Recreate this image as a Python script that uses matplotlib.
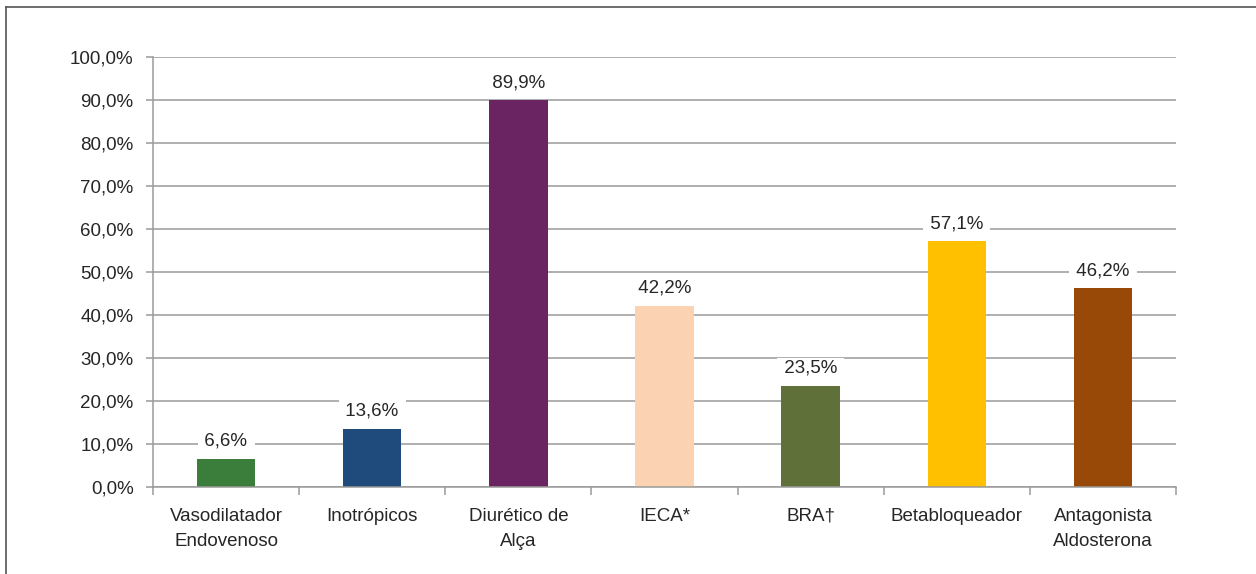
import matplotlib
matplotlib.use("Agg")
import matplotlib.pyplot as plt
from matplotlib.lines import Line2D

categories = ["Vasodilatador\nEndovenoso", "Inotrópicos", "Diurético de\nAlça", "IECA*",
              "BRA†", "Betabloqueador", "Antagonista\nAldosterona"]
values = [6.6, 13.6, 89.9, 42.2, 23.5, 57.1, 46.2]
colors = ["#3b7d3b", "#1f4a7c", "#6a2461", "#fbd3b3", "#5f7038", "#ffc000", "#984807"]
yticks = [0, 10, 20, 30, 40, 50, 60, 70, 80, 90, 100]

plt.rcParams['font.family'] = ['Liberation Sans', 'DejaVu Sans']
txt = "#262626"
fs = 13.5

fig = plt.figure(figsize=(12.56, 5.74), dpi=100)
ax = fig.add_axes([153/1256, 1-487/574, (1176-153)/1256, (487-57)/574])

x = list(range(len(categories)))
ax.bar(x, values, width=0.4, color=colors, zorder=3)
ax.set_xlim(-0.5, len(categories) - 0.5)
ax.set_ylim(0, 100)
ax.set_yticks(yticks)
ax.set_yticklabels([f"{v:.1f}%".replace(".", ",") for v in yticks], fontsize=fs, color=txt)
ax.yaxis.grid(True, color="#9a9a9a", linewidth=1.1, zorder=0)
ax.set_axisbelow(True)

ax.set_xticks([i + 0.5 for i in range(-1, len(categories))])
ax.set_xticklabels([])
ax.set_xticks(x, minor=True)
ax.set_xticklabels(categories, minor=True, fontsize=fs, color=txt, linespacing=1.6)
ax.tick_params(axis='x', which='minor', length=0, pad=15)
ax.tick_params(axis='x', which='major', length=6, color="#9a9a9a", width=1.1)
ax.tick_params(axis='y', length=5, color="#9a9a9a", width=1.1, pad=9)

for s in ["top", "right"]:
    ax.spines[s].set_visible(False)
for s in ["left", "bottom"]:
    ax.spines[s].set_color("#9a9a9a")
    ax.spines[s].set_linewidth(1.1)
    ax.spines[s].set_zorder(4)

for xi, v in zip(x, values):
    ax.annotate(" " + f"{v:.1f}%".replace(".", ",") + " ", (xi, v), xytext=(0, 9.5),
                textcoords="offset points", ha="center", va="baseline",
                fontsize=fs, color=txt, zorder=2.5,
                bbox=dict(boxstyle="square,pad=0.1", facecolor="white", edgecolor="none"))

# outer frame (top and left only)
fig.add_artist(Line2D([6/1256, 1], [1-7/574, 1-7/574], color="#555555", linewidth=1.2, transform=fig.transFigure))
fig.add_artist(Line2D([6/1256, 6/1256], [0, 1-7/574], color="#555555", linewidth=1.2, transform=fig.transFigure))

fig.savefig("out.png", dpi=100)
